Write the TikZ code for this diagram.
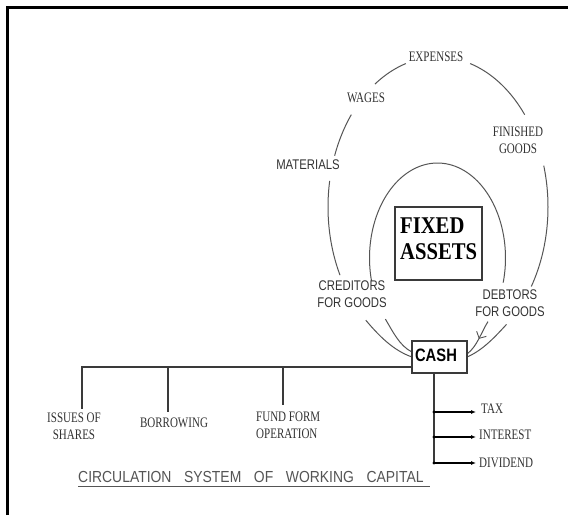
\documentclass[tikz,border=0pt]{standalone}
\usepackage{fontspec}
\setmainfont{Liberation Serif}
\setsansfont{Liberation Sans}
\usetikzlibrary{arrows.meta,decorations.markings}
\definecolor{loopc}{HTML}{555555}
\definecolor{linec}{HTML}{3A3A3A}
\definecolor{txt}{HTML}{333333}
\newcommand\serlab[1]{{\fontsize{14.5}{17}\selectfont\scalebox{0.76}[1]{\begin{tabular}{@{}c@{}}#1\end{tabular}}}}
\newcommand\serlabl[1]{{\fontsize{14.5}{17}\selectfont\scalebox{0.76}[1]{\begin{tabular}{@{}l@{}}#1\end{tabular}}}}
\newcommand\sanslab[1]{{\sffamily\fontsize{14}{17}\selectfont\scalebox{0.81}[1]{\begin{tabular}{@{}c@{}}#1\end{tabular}}}}
\begin{document}
\begin{tikzpicture}[x=1pt,y=-1pt,
  lbl/.style={inner sep=0pt, text=txt},
  loopline/.style={draw=loopc, line width=1pt},
  branch/.style={draw=linec, line width=1.3pt},
  outarrow/.style={draw=black, line width=1.3pt, -{Latex[length=5pt,width=4pt]}},
  arrowmid/.style={postaction={decorate},
    decoration={markings, mark=at position 0.5 with {\arrow[line width=0.9pt]{Straight Barb[length=5pt,width=11pt]}}}},
  boxline/.style={draw=linec, line width=1.1pt, fill=white}
]
\useasboundingbox (0,0) rectangle (568,515);
\fill[white] (0,0) rectangle (568,515);
\draw[line width=2.5pt] (7.5,515) -- (7.5,7.5) -- (568,7.5);

% outer loop segments
\draw[loopline] plot[domain=153:190,samples=30] ({438+110*cos(\x)},{207+150*sin(\x)});
\draw[loopline] plot[domain=200:218,samples=20] ({438+110*cos(\x)},{207+150*sin(\x)});
\draw[loopline] plot[domain=235:253,samples=20] ({438+110*cos(\x)},{207+150*sin(\x)});
\draw[loopline] plot[domain=287:322,samples=30] ({438+110*cos(\x)},{207+150*sin(\x)});
\draw[loopline] plot[domain=344:392,samples=40] ({438+110*cos(\x)},{207+150*sin(\x)});
\draw[loopline] (365.8,320.2) .. controls (378.7,335.5) and (393.1,350.4) .. (412,357);
\draw[loopline] (506.5,324.4) .. controls (495,336.9) and (482.6,350.4) .. (467,357);

% inner loop segments
\draw[loopline] plot[domain=166:375,samples=80] ({437.5+68*cos(\x)},{258+95*sin(\x)});
\draw[loopline] (385.4,319.1) .. controls (392.6,331.1) and (399.4,345.8) .. (412,352);
\draw[loopline,arrowmid] (488.0,321.6) .. controls (481,332.5) and (477.4,346.2) .. (467,354);

% fixed assets
\node[draw=linec, line width=1.1pt, minimum width=87, minimum height=73, inner sep=0pt] (fa) at (438.5,243.5) {};
\node[inner sep=0pt, anchor=west, text=black] (fatext) at (400,241) {\bfseries\fontsize{24}{26}\selectfont\scalebox{0.86}[1]{\begin{tabular}{@{}l@{}}FIXED\\ASSETS\end{tabular}}};

% cash box
\node[boxline, minimum width=55, minimum height=32, inner sep=0pt] (cash) at (439.5,357) {};
\node[inner sep=0pt, text=black] (cashtext) at (436,355) {\sffamily\bfseries\fontsize{18}{18}\selectfont\scalebox{0.82}[1]{CASH}};

% branches to sources
\coordinate (cw) at (412,367);
\coordinate (b1) at (82,367);
\coordinate (b2) at (168,367);
\coordinate (b3) at (283,367);
\coordinate (e1) at (82,409);
\coordinate (e2) at (168,412);
\coordinate (e3) at (283,405);
\draw[branch] (cw) -- (b1) -- (e1);
\draw[branch] (b2) -- (e2);
\draw[branch] (b3) -- (e3);

% outflows
\node[lbl,anchor=west] (tax) at (481,410) {\serlab{TAX}};
\node[lbl,anchor=west] (int) at (479,436) {\serlab{INTEREST}};
\node[lbl,anchor=west] (div) at (479,464) {\serlab{DIVIDEND}};
\coordinate (cs) at (434,373);
\coordinate (t1) at (434,412);
\coordinate (t2) at (434,437);
\coordinate (t3) at (434,463);
\draw[branch] (cs) -- (t3);
\foreach \p/\q in {t1/tax,t2/int,t3/div}{
  \fill[black] (\p) circle (1.7);
  \draw[outarrow] (\p) -- (476,0 |- \p);
}

% labels
\node[lbl] (exp) at (436,58) {\serlab{EXPENSES}};
\node[lbl] (wag) at (366,99) {\serlab{WAGES}};
\node[lbl] (fin) at (518,141.5) {\serlab{FINISHED\\GOODS}};
\node[lbl] (mat) at (308,166) {\sanslab{MATERIALS}};
\node[lbl] (cred) at (352,295.5) {\sanslab{CREDITORS\\FOR GOODS}};
\node[lbl] (debt) at (510,304.5) {\sanslab{DEBTORS\\FOR GOODS}};
\node[lbl] (iss) at (74,428) {\serlab{ISSUES OF\\SHARES}};
\node[lbl] (bor) at (174,424) {\serlab{BORROWING}};
\node[lbl,anchor=west] (fund) at (256,426.5) {\serlabl{FUND FORM\\OPERATION}};

% title
\node[lbl,anchor=west,text=loopc] (title) at (78,477) {\sffamily\fontsize{16}{16}\selectfont\scalebox{0.87}[1]{CIRCULATION\hspace{14.5pt}SYSTEM\hspace{14.5pt}OF\hspace{14.5pt}WORKING\hspace{14.5pt}CAPITAL}};
\coordinate (ul1) at (78,486);
\coordinate (ul2) at (430,486);
\draw[draw=loopc, line width=1pt] (ul1) -- (ul2);
\end{tikzpicture}
\end{document}
